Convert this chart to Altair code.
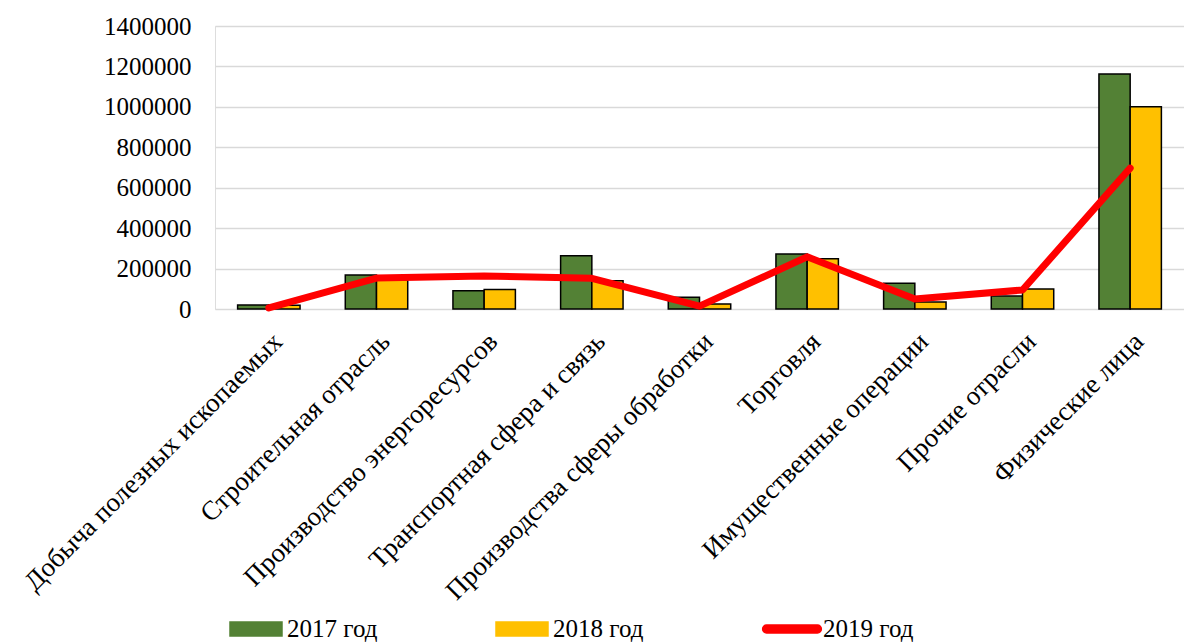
import altair as alt
import pandas as pd

# Sectors shown on the x axis
categories = [
    "Добыча полезных ископаемых",
    "Строительная отрасль",
    "Производство энергоресурсов",
    "Транспортная сфера и связь",
    "Производства сферы обработки",
    "Торговля",
    "Имущественные операции",
    "Прочие отрасли",
    "Физические лица",
]

years = ["2017 год", "2018 год", "2019 год"]

values_2017 = [20000, 168000, 90000, 264000, 58000, 272000, 127000, 64000, 1163000]
values_2018 = [18000, 145000, 97000, 140000, 25000, 248000, 35000, 99000, 1000000]
values_2019 = [5000, 153000, 163000, 152000, 14000, 258000, 50000, 94000, 697000]

y_ticks = [0, 200000, 400000, 600000, 800000, 1000000, 1200000, 1400000]

colors = ["#538135", "#FFC000", "#FF0000"]

rows = []
for year, series in zip(years, [values_2017, values_2018, values_2019]):
    for cat, v in zip(categories, series):
        rows.append({"cat": cat, "year": year, "value": v})
df = pd.DataFrame(rows)

FONT = "Liberation Serif"

rect_path = "M-1,-0.27L1,-0.27L1,0.27L-1,0.27Z"
line_path = ("M-0.98,-0.15L0.98,-0.15A0.15,0.15,0,0,1,0.98,0.15"
             "L-0.98,0.15A0.15,0.15,0,0,1,-0.98,-0.15Z")
is_line = "datum.value === '2019 год'"

legend = alt.Legend(
    title=None,
    orient="none",
    legendX=14,
    legendY=576,
    direction="horizontal",
    symbolType={"expr": f"{is_line} ? '{line_path}' : '{rect_path}'"},
    symbolSize=2704,
    symbolStrokeWidth=1.5,
    symbolStrokeColor={"expr": f"{is_line} ? '#FF0000' : '#000000'"},
    symbolOpacity=1,
    labelFont=FONT,
    labelFontSize=25,
    labelColor="black",
    labelOffset=4,
    labelLimit=200,
    columnPadding=115,
    padding=0,
)

color = alt.Color(
    "year:N",
    scale=alt.Scale(domain=years, range=colors),
    legend=legend,
)

x_enc = alt.X(
    "cat:N",
    sort=categories,
    title=None,
    scale=alt.Scale(paddingInner=0.42, paddingOuter=0.21),
    axis=alt.Axis(
        labelAngle=-45,
        labelAlign="right",
        labelBaseline="top",
        labelFont=FONT,
        labelFontSize=27,
        labelColor="black",
        labelPadding=19,
        labelLimit=600,
        domain=False,
        ticks=False,
        grid=False,
    ),
)

y_enc = alt.Y(
    "value:Q",
    title=None,
    scale=alt.Scale(domain=[0, 1400000], nice=False),
    axis=alt.Axis(
        values=y_ticks,
        format="d",
        labelFont=FONT,
        labelFontSize=25,
        labelColor="black",
        labelPadding=24,
        domain=False,
        ticks=False,
        grid=True,
        gridColor="#d9d9d9",
        gridWidth=1.5,
    ),
)

bars = (
    alt.Chart(df)
    .transform_filter(alt.FieldOneOfPredicate(field="year", oneOf=years[:2]))
    .mark_bar(stroke="black", strokeWidth=1.5, opacity=1)
    .encode(
        x=x_enc,
        xOffset=alt.XOffset("year:N", sort=years[:2]),
        y=y_enc,
        color=color,
    )
)

line = (
    alt.Chart(df)
    .transform_filter(alt.FieldEqualPredicate(field="year", equal=years[2]))
    .mark_line(strokeWidth=7, strokeCap="round", strokeJoin="round")
    .encode(
        x=alt.X("cat:N", sort=categories),
        y=alt.Y("value:Q"),
        color=color,
    )
)

chart = (
    alt.layer(bars, line)
    .properties(
        width=969,
        height=283,
        autosize=alt.AutoSizeParams(type="none"),
        padding={"left": 215, "top": 26, "right": 0, "bottom": 334},
    )
    .configure_view(stroke=None)
    .configure(background="white")
)

chart.save("out.html", embed_options={"renderer": "svg", "actions": False})
